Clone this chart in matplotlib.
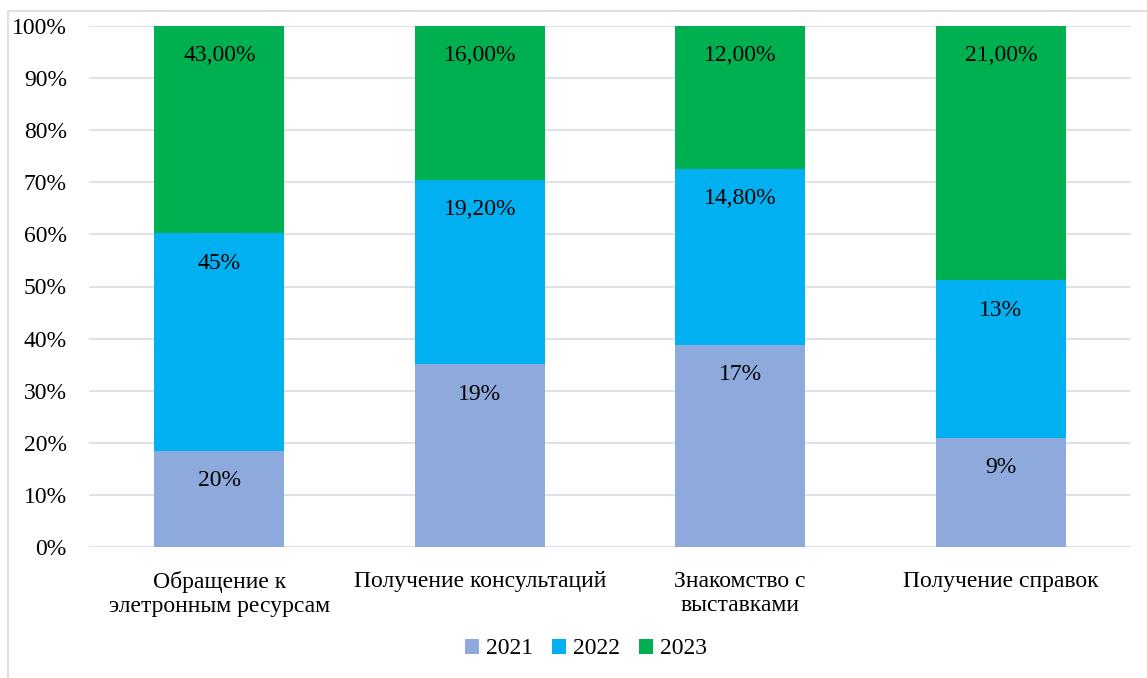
import numpy as np
import matplotlib.pyplot as plt
from matplotlib.patches import Rectangle

# Raw values shown on the chart (normalised to 100% per category)
categories = ["Обращение к\nэлетронным ресурсам", "Получение консультаций",
              "Знакомство с\nвыставками", "Получение справок"]
years = ["2021", "2022", "2023"]
v2021 = [20, 19, 17, 9]
v2022 = [45, 19.2, 14.8, 13]
v2023 = [43, 16, 12, 21]
labels2021 = ["20%", "19%", "17%", "9%"]
labels2022 = ["45%", "19,20%", "14,80%", "13%"]
labels2023 = ["43,00%", "16,00%", "12,00%", "21,00%"]
colors = ["#8EA9DB", "#00B0F0", "#00B050"]

plt.rcParams['font.family'] = ['Liberation Serif', 'DejaVu Serif']
FS = 17

fig = plt.figure(figsize=(11.47, 6.78), dpi=100)
ax = fig.add_axes([89 / 1147, 1 - 547 / 678, (1131 - 89) / 1147, (547 - 26) / 678])

# chart-area border (light frame, runs off the right/bottom edge)
fig.patches.append(Rectangle((8 / 1147, -0.1), 1.2, 1 - 11 / 678 + 0.1,
                             transform=fig.transFigure, fill=False,
                             edgecolor="#dde1e8", linewidth=1.5))

vals = np.array([v2021, v2022, v2023], dtype=float)
shares = vals / vals.sum(axis=0) * 100
x = np.arange(len(categories))
bottom = np.zeros(len(categories))
all_labels = [labels2021, labels2022, labels2023]

for i in range(3):
    ax.bar(x, shares[i], bottom=bottom, width=0.5, color=colors[i],
           label=years[i], zorder=3)
    top = bottom + shares[i]
    for j in range(len(categories)):
        ax.annotate(all_labels[i][j], (x[j], top[j]), xytext=(0, -21.5),
                    textcoords="offset points", ha="center", va="center",
                    fontsize=FS, color="#000000", zorder=4)
    bottom = top

ax.set_xlim(-0.5, 3.5)
ax.set_ylim(0, 100)
ax.set_yticks(np.arange(0, 101, 10))
ax.set_yticklabels([f"{t}%" for t in range(0, 101, 10)], fontsize=FS)
ax.set_xticks(x)
ax.set_xticklabels(categories, fontsize=FS, linespacing=1.2)
ax.tick_params(axis="both", length=0)
ax.tick_params(axis="y", pad=16)
ax.tick_params(axis="x", pad=17)
ax.grid(axis="y", color="#dde1e8", linewidth=1.5, zorder=0)
for s in ax.spines.values():
    s.set_visible(False)

fig.legend(loc="center", bbox_to_anchor=(586 / 1147, 1 - 649 / 678), ncol=3,
           frameon=False, fontsize=FS, handlelength=0.6, handleheight=0.6,
           handletextpad=0.3, columnspacing=0.8)

fig.savefig("out.png", dpi=100)
